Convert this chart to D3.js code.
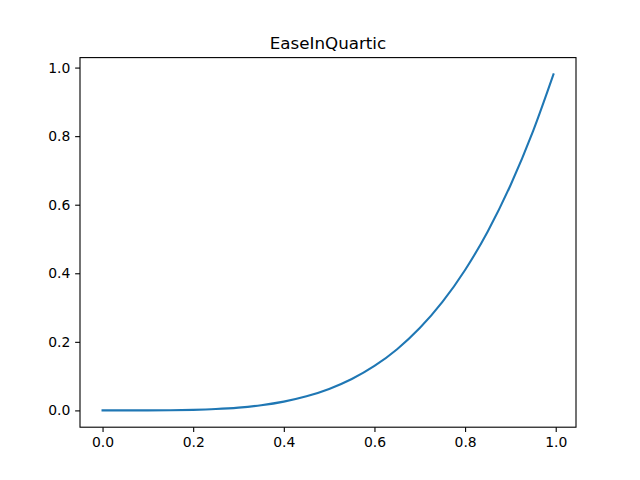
<!DOCTYPE html>
<html>
<head>
  <meta charset="utf-8">
  <script src="https://cdn.jsdelivr.net/npm/d3@7"></script>
  <style>
    body { margin: 0; background: #fff; }
    svg text { font-family: "DejaVu Sans", sans-serif; }
  </style>
</head>
<body>
  <div id="chart"></div>
  <script>
    // points
    var xs = [0, 0.05, 0.1, 0.15, 0.2, 0.25, 0.3, 0.35, 0.4, 0.45, 0.5,
              0.55, 0.6, 0.65, 0.7, 0.75, 0.8, 0.85, 0.9, 0.95, 0.995];
    var ys = [0, 0.00001, 0.0001, 0.0005, 0.0016, 0.0039, 0.0081, 0.015, 0.0256, 0.041, 0.0625,
              0.0915, 0.1296, 0.1785, 0.2401, 0.3164, 0.4096, 0.522, 0.6561, 0.8145, 0.9801];
    var xTicks = [0, 0.2, 0.4, 0.6, 0.8, 1.0];
    var yTicks = [0, 0.2, 0.4, 0.6, 0.8, 1.0];
    var title = 'EaseInQuartic';

    (function () {
      var width = 640, height = 480;
      var mLeft = 80, mRight = 576, mTop = 57.6, mBottom = 427.2;

      var svg = d3.select('#chart').append('svg')
        .attr('width', width).attr('height', height);

      var xMin = d3.min(xs), xMax = d3.max(xs), xPad = (xMax - xMin) * 0.05;
      var yMin = d3.min(ys), yMax = d3.max(ys), yPad = (yMax - yMin) * 0.05;

      var x = d3.scaleLinear().domain([xMin - xPad, xMax + xPad]).range([mLeft, mRight]);
      var y = d3.scaleLinear().domain([yMin - yPad, yMax + yPad]).range([mBottom, mTop]);

      var xAxis = svg.append('g')
        .attr('transform', 'translate(0,' + mBottom + ')')
        .call(d3.axisBottom(x).tickValues(xTicks).tickFormat(d3.format('.1f'))
          .tickSizeInner(4.86).tickSizeOuter(0).tickPadding(4.86));
      var yAxis = svg.append('g')
        .attr('transform', 'translate(' + mLeft + ',0)')
        .call(d3.axisLeft(y).tickValues(yTicks).tickFormat(d3.format('.1f'))
          .tickSizeInner(4.86).tickSizeOuter(0).tickPadding(4.86));

      [xAxis, yAxis].forEach(function (g) {
        g.select('.domain').remove();
        g.selectAll('.tick line').attr('stroke', '#000').attr('stroke-width', 1.1);
        g.selectAll('.tick text').attr('font-size', '13.9px').attr('fill', '#000')
          .style('font-family', '"DejaVu Sans", sans-serif');
      });

      var line = d3.line()
        .x(function (d, i) { return x(xs[i]); })
        .y(function (d) { return y(d); })
        .curve(d3.curveMonotoneX);

      svg.append('path')
        .datum(ys)
        .attr('d', line)
        .attr('fill', 'none')
        .attr('stroke', '#1f77b4')
        .attr('stroke-width', 2.08)
        .attr('stroke-linecap', 'square');

      svg.append('rect')
        .attr('x', mLeft).attr('y', mTop)
        .attr('width', mRight - mLeft).attr('height', mBottom - mTop)
        .attr('fill', 'none').attr('stroke', '#000').attr('stroke-width', 1.1);

      svg.append('text')
        .attr('x', (mLeft + mRight) / 2).attr('y', mTop - 8.3)
        .attr('text-anchor', 'middle')
        .attr('font-size', '16.7px')
        .text(title);
    })();
  </script>
</body>
</html>
